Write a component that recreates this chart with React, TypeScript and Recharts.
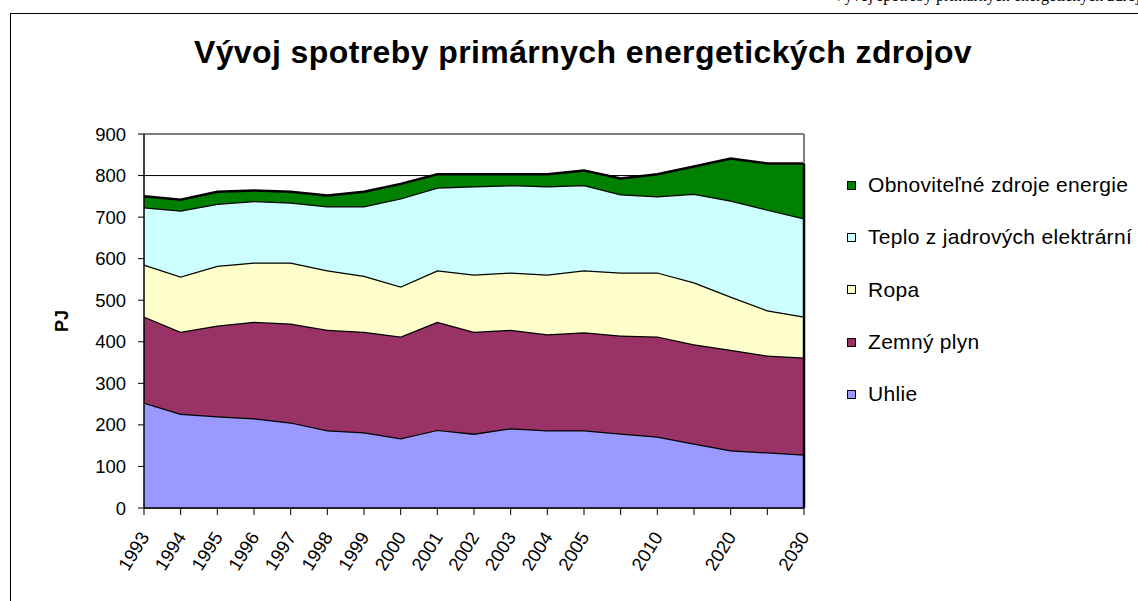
import {
  AreaChart,
  Area,
  XAxis,
  YAxis,
  CartesianGrid,
  Legend,
  ReferenceLine,
} from 'recharts';

const years = [
  '1993', '1994', '1995', '1996', '1997', '1998', '1999', '2000', '2001', '2002',
  '2003', '2004', '2005', '2007', '2010', '2015', '2020', '2025', '2030',
];
const tickLabels = [
  '1993', '1994', '1995', '1996', '1997', '1998', '1999', '2000', '2001', '2002',
  '2003', '2004', '2005', '', '2010', '', '2020', '', '2030',
];
const yTicks = [0, 100, 200, 300, 400, 500, 600, 700, 800, 900];

const uhlie = [254, 227, 221, 216, 206, 187, 182, 168, 188, 179, 192, 187, 187, 179, 172, 155, 139, 134, 129];
const zemnyPlyn = [207, 197, 218, 232, 238, 242, 242, 245, 260, 245, 237, 231, 236, 236, 241, 239, 242, 233, 233];
const ropa = [125, 133, 144, 143, 147, 143, 135, 120, 124, 138, 138, 144, 149, 152, 154, 149, 128, 109, 99];
const teplo = [138, 159, 149, 148, 144, 154, 167, 212, 199, 212, 210, 212, 205, 188, 183, 213, 231, 242, 236];
const oze = [26, 26, 29, 25, 26, 26, 35, 35, 32, 29, 26, 29, 35, 38, 53, 66, 101, 111, 132];

const series = [
  { key: 'uhlie', name: 'Uhlie', color: '#9999ff', values: uhlie },
  { key: 'plyn', name: 'Zemný plyn', color: '#993366', values: zemnyPlyn },
  { key: 'ropa', name: 'Ropa', color: '#ffffcc', values: ropa },
  { key: 'teplo', name: 'Teplo z jadrových elektrární', color: '#ccffff', values: teplo },
  { key: 'oze', name: 'Obnoviteľné zdroje energie', color: '#008000', values: oze },
];

const data = years.map((year, i) => {
  const row: Record<string, string | number> = { year };
  series.forEach((s) => {
    row[s.key] = s.values[i];
  });
  return row;
});

const lastIdx = years.length - 1;
const lastTotal = series.reduce((sum, s) => sum + s.values[lastIdx], 0);

const FONT = '"Liberation Sans", Arial, sans-serif';

function XTick(props: any) {
  const { x, y, payload, index } = props;
  const i = payload?.index ?? index;
  const ax = x + 6;
  const ay = y + 20;
  return (
    <text
      x={ax}
      y={ay}
      transform={`rotate(-58, ${ax}, ${ay})`}
      textAnchor="end"
      fontSize={18.5}
      fontFamily={FONT}
      fill="#000"
    >
      {tickLabels[i]}
    </text>
  );
}

function LegendBox() {
  const items = [...series].reverse();
  return (
    <div style={{ fontFamily: FONT, fontSize: 21, letterSpacing: 0.3, color: '#000' }}>
      {items.map((s) => (
        <div
          key={s.key}
          style={{ display: 'flex', alignItems: 'center', height: 52.3, whiteSpace: 'nowrap' }}
        >
          <span
            style={{
              display: 'inline-block',
              width: 7,
              height: 7,
              background: s.color,
              border: '1px solid #000',
              marginRight: 12,
            }}
          />
          <span>{s.name}</span>
        </div>
      ))}
    </div>
  );
}

export default function App() {
  return (
    <div
      style={{
        position: 'absolute',
        left: 0,
        top: 0,
        width: 1138,
        height: 601,
        overflow: 'hidden',
        background: '#fff',
      }}
    >
      <div
        style={{
          position: 'absolute',
          left: 833,
          top: -12,
          fontFamily: '"Liberation Serif", "Times New Roman", serif',
          fontSize: 16,
          lineHeight: '16px',
          whiteSpace: 'nowrap',
        }}
      >
        Vývoj spotreby primárnych energetických zdrojov
      </div>
      <div
        style={{
          position: 'absolute',
          left: 10,
          top: 13,
          width: 1300,
          height: 800,
          borderLeft: '1px solid #000',
          borderTop: '1px solid #000',
        }}
      />
      <div
        style={{
          position: 'absolute',
          left: 0,
          top: 36,
          width: 1166,
          textAlign: 'center',
          fontFamily: FONT,
          fontWeight: 'bold',
          fontSize: 32,
          letterSpacing: 0.4,
          lineHeight: '32px',
          whiteSpace: 'nowrap',
        }}
      >
        Vývoj spotreby primárnych energetických zdrojov
      </div>
      <div style={{ position: 'absolute', left: 0, top: 0 }}>
        <AreaChart
          width={1138}
          height={601}
          data={data}
          margin={{ top: 134, right: 334, bottom: 13, left: 54 }}
        >
          <CartesianGrid horizontal vertical={false} stroke="#000" strokeWidth={1} />
          <XAxis
            dataKey="year"
            interval={0}
            height={80}
            axisLine={{ stroke: '#000', strokeWidth: 1.5 }}
            tickLine={{ stroke: '#000' }}
            tickSize={7}
            tick={<XTick />}
          />
          <YAxis
            width={90}
            domain={[0, 900]}
            ticks={yTicks}
            interval={0}
            axisLine={{ stroke: '#000', strokeWidth: 1.5 }}
            tickLine={{ stroke: '#000' }}
            tickSize={6}
            tickMargin={12}
            tick={{ fontSize: 18.5, fontFamily: FONT, fill: '#000' }}
            label={{
              value: 'PJ',
              angle: -90,
              position: 'insideLeft',
              offset: 8,
              style: { textAnchor: 'middle', fontSize: 18, fontWeight: 'bold', fontFamily: FONT, fill: '#000' },
            }}
          />
          {series.map((s) => (
            <Area
              key={s.key}
              type="linear"
              dataKey={s.key}
              name={s.name}
              stackId="1"
              fill={s.color}
              fillOpacity={1}
              stroke="#000"
              strokeWidth={2.5}
              isAnimationActive={false}
            />
          ))}
          <ReferenceLine y={900} stroke="#808080" strokeWidth={2} />
          <ReferenceLine x={years[lastIdx]} stroke="#808080" strokeWidth={2} />
          <ReferenceLine
            segment={[
              { x: years[lastIdx], y: 0 },
              { x: years[lastIdx], y: lastTotal },
            ]}
            stroke="#000"
            strokeWidth={2.5}
          />
          <Legend
            layout="vertical"
            align="center"
            verticalAlign="middle"
            wrapperStyle={{ left: 847, top: 159, width: 290 }}
            content={() => <LegendBox />}
          />
        </AreaChart>
      </div>
    </div>
  );
}
